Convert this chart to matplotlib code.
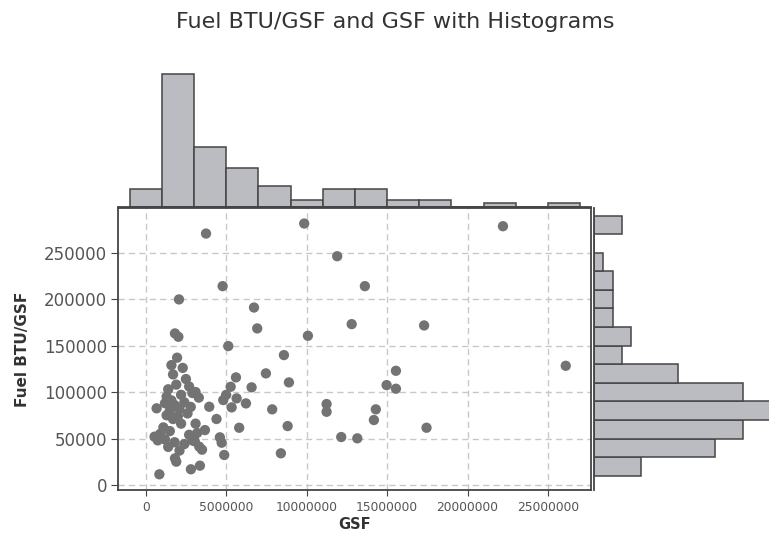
"""
plot.py - scatter of Fuel BTU/GSF against GSF with marginal histograms
"""

import matplotlib
matplotlib.use("Agg")
import matplotlib.pyplot as plt
import numpy as np

# GSF values
gsf = [
    3.75e6, 9.85e6, 11.9e6, 4.78e6, 2.07e6, 6.73e6, 12.8e6, 6.93e6, 1.82e6, 2.03e6,
    10.08e6, 5.13e6, 8.59e6, 7.47e6, 8.9e6, 5.61e6, 5.28e6, 6.58e6, 4.82e6, 5.34e6,
    5.65e6, 6.23e6, 7.86e6, 11.24e6, 11.24e6, 3.95e6, 4.4e6, 5.81e6, 8.82e6, 3.68e6,
    4.61e6, 4.72e6, 3.33e6, 4.88e6, 8.4e6, 12.15e6, 13.15e6, 3.37e6, 2.81e6, 1.82e6,
    1.9e6, 0.85e6, 0.68e6, 22.2e6, 13.62e6, 17.3e6, 26.1e6, 15.55e6, 14.97e6, 15.55e6,
    14.3e6, 14.18e6, 17.45e6,
    # dense group near the origin
    3.1e6, 3.3e6, 3.2e6, 3.05e6, 3.5e6, 3.1e6, 5.0e6, 0.55e6, 0.75e6, 0.9e6,
    1.95e6, 1.6e6, 2.3e6, 1.7e6, 2.5e6, 1.9e6, 2.7e6, 1.4e6, 2.9e6, 1.3e6,
    2.2e6, 1.6e6, 1.2e6, 1.8e6, 2.4e6, 1.5e6, 2.1e6, 2.8e6, 1.3e6, 2.0e6,
    2.6e6, 1.7e6, 1.1e6, 2.2e6, 1.5e6, 2.7e6, 1.2e6, 1.8e6, 2.4e6, 1.4e6,
    2.1e6, 2.9e6,
]

# Fuel BTU/GSF values, same order
btu = [
    270600, 281400, 246200, 214000, 199700, 191000, 173100, 168500, 163100, 159500,
    160600, 149500, 139800, 120100, 110400, 115800, 105700, 105100, 91400, 83500,
    93200, 87800, 81400, 87100, 78800, 84200, 71000, 61600, 63400, 59100,
    51300, 45500, 41200, 32300, 34100, 51600, 50200, 20800, 16900, 28700,
    25100, 11500, 82500, 278500, 214000, 171700, 128300, 122900, 107500, 103600,
    81400, 69900, 61600,
    100000, 94000, 56000, 47000, 38000, 66000, 97000, 52000, 48000, 55000,
    137000, 129000, 126000, 119000, 114000, 108000, 106000, 103000, 99000, 95000,
    97000, 91000, 88000, 86000, 89000, 80000, 82000, 84000, 75000, 74000,
    77000, 71000, 62000, 66000, 58000, 54000, 49000, 46000, 44000, 41000,
    37000, 48000,
]

gsf_bins = np.arange(-1e6, 27e6 + 1, 2e6)
btu_bins = np.arange(10000, 290000 + 1, 20000)

bar_face = "#bbbcc1"
bar_edge = "#454545"
grey_text = "#555555"

fig = plt.figure(figsize=(7.69, 5.35), dpi=100)
W, H = 769.0, 535.0

ax = fig.add_axes([118 / W, 45 / H, 473 / W, 282 / H])
ax_top = fig.add_axes([118 / W, 328 / H, 473 / W, 140 / H], sharex=ax)
ax_right = fig.add_axes([594 / W, 45 / H, 186 / W, 282 / H], sharey=ax)

ax.scatter(gsf, btu, s=55, color="#737373", edgecolors="none", zorder=3)
ax.set_xlim(-1.72e6, 27.67e6)
ax.set_ylim(-5400, 298100)
ax.set_xticks(np.arange(0, 25e6 + 1, 5e6))
ax.set_yticks(np.arange(0, 250000 + 1, 50000))
ax.ticklabel_format(style="plain")
ax.grid(True, color="#c8c8c8", linewidth=1.0, linestyle=(0, (4.5, 3)))
ax.set_axisbelow(True)
for side in ax.spines.values():
    side.set_color("#444444")
    side.set_linewidth(1.3)
ax.tick_params(axis="x", labelsize=8.8, colors=grey_text, length=4, pad=4)
ax.tick_params(axis="y", labelsize=12, colors=grey_text, length=5, pad=3)
ax.tick_params(axis="both", color="#444444")
ax.set_xlabel("GSF", fontsize=10.5, fontweight="bold", color="#333333", labelpad=2)
ax.set_ylabel("Fuel BTU/GSF", fontsize=11, fontweight="bold", color="#333333", labelpad=10)

ax_top.hist(gsf, bins=gsf_bins, color=bar_face, edgecolor=bar_edge, linewidth=1.1)
ax_top.set_ylim(0, 39.9)
ax_top.axis("off")
ax_top.axhline(0, color="#444444", linewidth=1.3, clip_on=False)

ax_right.hist(btu, bins=btu_bins, orientation="horizontal",
              color=bar_face, edgecolor=bar_edge, linewidth=1.1)
ax_right.set_xlim(0, 19.95)
ax_right.axis("off")
ax_right.axvline(0, color="#444444", linewidth=1.3, clip_on=False)

fig.text(395 / W, 1 - 22 / H, "Fuel BTU/GSF and GSF with Histograms",
         ha="center", va="center", fontsize=16, color="#333333")

fig.savefig("out.png", dpi=100)
